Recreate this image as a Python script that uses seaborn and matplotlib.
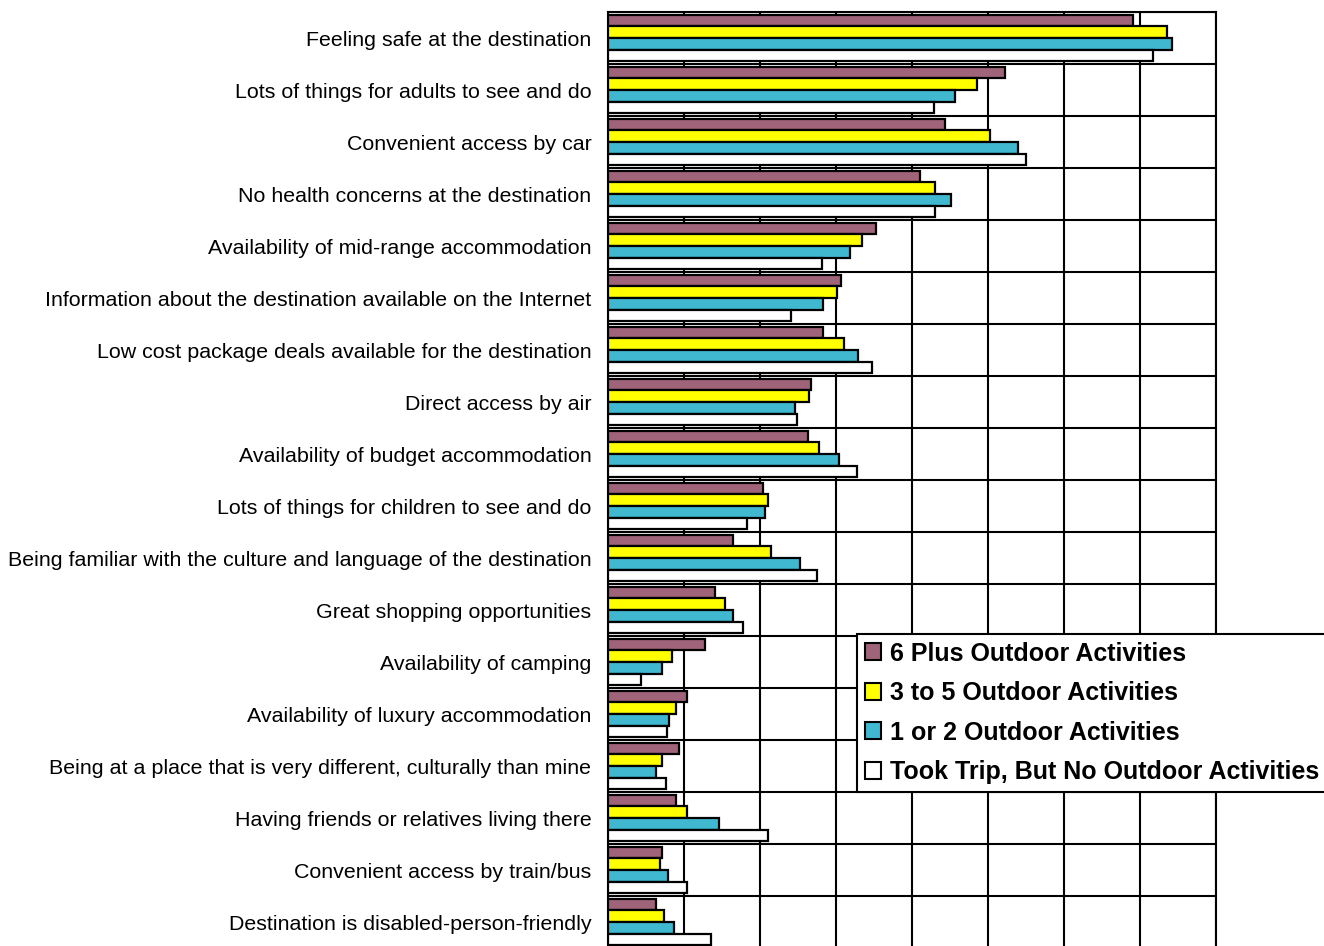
import numpy as np
import pandas as pd
import matplotlib
matplotlib.use("Agg")
import matplotlib.pyplot as plt
import seaborn as sns

categories = [
    "Feeling safe at the destination",
    "Lots of things for adults to see and do",
    "Convenient access by car",
    "No health concerns at the destination",
    "Availability of mid-range accommodation",
    "Information about the destination available on the Internet",
    "Low cost package deals available for the destination",
    "Direct access by air",
    "Availability of budget accommodation",
    "Lots of things for children to see and do",
    "Being familiar with the culture and language of the destination",
    "Great shopping opportunities",
    "Availability of camping",
    "Availability of luxury accommodation",
    "Being at a place that is very different, culturally than mine",
    "Having friends or relatives living there",
    "Convenient access by train/bus",
    "Destination is disabled-person-friendly",
]
series_names = [
    "6 Plus Outdoor Activities",
    "3 to 5 Outdoor Activities",
    "1 or 2 Outdoor Activities",
    "Took Trip, But No Outdoor Activities",
]
six_plus = [69.1, 52.2, 44.4, 41.0, 35.2, 30.7, 28.3, 26.7, 26.3, 20.4, 16.5, 14.1, 12.8, 10.4, 9.3, 9.0, 7.1, 6.3]
three_to_five = [73.5, 48.6, 50.2, 43.0, 33.4, 30.1, 31.0, 26.4, 27.8, 21.0, 21.4, 15.4, 8.4, 9.0, 7.1, 10.4, 6.9, 7.4]
one_or_two = [74.2, 45.7, 53.9, 45.1, 31.9, 28.3, 32.9, 24.6, 30.4, 20.7, 25.2, 16.4, 7.1, 8.0, 6.3, 14.6, 7.9, 8.7]
no_outdoor = [71.7, 42.9, 55.0, 43.0, 28.1, 24.1, 34.8, 24.9, 32.7, 18.3, 27.5, 17.7, 4.3, 7.7, 7.6, 21.1, 10.4, 13.6]
colors = ["#A0647A", "#FFFF00", "#40B8D0", "#FFFFFF"]

rows = []
for name, vals in zip(series_names, [six_plus, three_to_five, one_or_two, no_outdoor]):
    for c, v in zip(categories, vals):
        rows.append({"category": c, "value": v, "group": name})
df = pd.DataFrame(rows)

sns.set_style("white")
plt.rcParams["font.family"] = ["Liberation Sans", "DejaVu Sans"]

W, H = 1324, 946
fig = plt.figure(figsize=(W / 100, H / 100), dpi=100)
ax = fig.add_axes([608 / W, (H - 948) / H, 608 / W, 936 / H])

sns.barplot(data=df, y="category", x="value", hue="group", order=categories,
            hue_order=series_names, palette=colors, saturation=1, orient="h", width=0.9,
            edgecolor="black", linewidth=1.6, ax=ax, legend=True, zorder=3)

n = len(categories)
ax.set_xlim(0, 80)
ax.set_ylim(n - 0.5, -0.5)
ax.set_xticks(np.arange(0, 81, 10))
ax.set_xticklabels([])
ax.tick_params(axis="x", length=0)
ax.set_yticks(np.arange(-0.5, n, 1.0), minor=True)
ax.tick_params(axis="y", which="major", length=0, pad=12, labelsize=15.4, labelcolor="black")
ax.tick_params(axis="y", which="minor", length=6, width=1.5, color="black")
ax.grid(axis="x", which="major", color="black", lw=1.5, zorder=0)
ax.grid(axis="y", which="minor", color="black", lw=1.5, zorder=0)
ax.grid(axis="y", which="major", visible=False)
ax.set_axisbelow(True)
ax.set_xlabel("")
ax.set_ylabel("")
for s in ax.spines.values():
    s.set_color("black")
    s.set_linewidth(1.5)
for lbl in ax.get_yticklabels():
    lbl.set_va("center_baseline")

handles, labels = ax.get_legend_handles_labels()
if ax.legend_:
    ax.legend_.remove()
leg = fig.legend(handles, labels, loc="upper left",
                 bbox_to_anchor=(857 / W, 1 - 634 / H), bbox_transform=fig.transFigure,
                 prop={"weight": "bold", "size": 18}, frameon=True, fancybox=False,
                 edgecolor="black", framealpha=1, borderpad=0.3, labelspacing=0.62,
                 handlelength=0.65, handleheight=0.65, handletextpad=0.35, borderaxespad=0)
leg.get_frame().set_linewidth(1.5)
for h in leg.legend_handles:
    h.set_edgecolor("black")
    h.set_linewidth(1.5)
for t in leg.get_texts():
    t.set_color("black")

fig.savefig("out.png", dpi=100)
